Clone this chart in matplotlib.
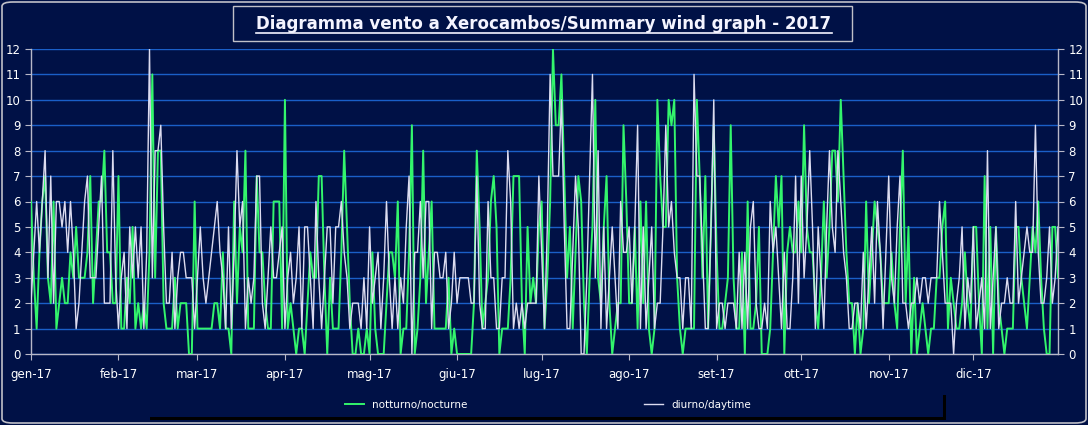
import matplotlib
matplotlib.use("Agg")
import matplotlib.pyplot as plt
from matplotlib.patches import Rectangle, FancyBboxPatch
from matplotlib.lines import Line2D
import numpy as np

# ---------------- data (daily values, 2017) ----------------
notturno_jan = [6,3,1,4,6,7,3,2,6,1, 2,3,2,2,4,3,5,3,3,3, 4,7,2,4,6,6,8,4,4,2, 2]
notturno_feb = [7,1,1,3,2,5,1,2,1,2, 1,4,11,3,8,8,2,1,1,1, 3,1,2,2,2,0,0,6]
notturno_mar = [1,1,1,1,1,1,2,2,1,4, 1,1,0,6,2,5,4,8,1,1, 1,7,4,4,2,1,1,6,6,6, 1]
notturno_apr = [10,1,2,1,0,1,1,0,2,4, 3,3,7,7,3,0,3,1,1,1, 4,8,5,2,0,0,1,0,0,1]
notturno_may = [0,4,1,0,0,0,2,4,4,3, 6,0,1,1,4,9,0,1,3,8, 2,4,6,1,1,1,1,1,3,0, 1]
notturno_jun = [0,0,0,0,0,0,2,8,5,1, 2,3,6,7,5,0,1,1,1,3, 7,7,7,2,0,5,2,3,2,5]
notturno_jul = [6,1,3,6,12,9,9,11,7,3, 5,1,4,7,6,2,0,3,5,10, 3,2,5,7,2,0,1,2,2,9, 6]
notturno_aug = [2,2,5,1,6,2,6,1,0,1, 10,7,5,5,10,9,10,3,1,0, 1,1,1,1,10,7,3,7,1,5, 9]
notturno_sep = [4,1,1,2,3,9,3,1,1,4, 0,6,1,1,2,5,0,0,0,1, 4,7,5,7,0,4,5,4,4,6]
notturno_oct = [4,9,5,4,4,2,1,3,6,3, 5,8,8,6,10,7,4,2,2,0, 2,0,1,6,2,4,6,5,4,2, 2]
notturno_nov = [2,4,2,1,5,8,2,5,0,3, 0,1,2,1,0,1,1,3,3,5, 6,1,3,2,1,1,2,4,2,1]
notturno_dec = [5,5,2,0,7,1,5,0,5,2, 1,0,1,1,1,5,5,3,2,1, 3,5,4,6,3,1,0,0,5,5, 3]

diurno_jan = [2,4,6,4,6,8,3,7,2,6, 6,5,6,4,6,4,1,2,4,6, 7,3,3,3,5,7,2,2,2,8, 3]
diurno_feb = [1,3,4,1,5,3,5,3,5,1, 4,12,3,8,8,9,5,2,2,4, 1,3,4,4,3,3,3,1]
diurno_mar = [3,5,3,2,3,4,5,6,4,3, 1,5,1,4,8,5,6,1,3,2, 3,7,7,2,1,3,5,3,3,4, 5]
diurno_apr = [1,3,4,2,3,5,1,5,5,3, 1,6,3,1,3,5,5,2,5,5, 6,4,3,1,2,2,2,1,3,1]
diurno_may = [5,2,3,4,1,3,6,3,1,3, 1,3,2,5,7,0,4,4,6,3, 6,6,1,4,4,3,3,4,1,2, 4]
diurno_jun = [2,3,3,3,3,2,2,7,2,1, 1,6,3,3,1,1,3,3,8,6, 1,2,1,2,1,2,2,2,2,7]
diurno_jul = [4,1,5,11,7,7,7,10,5,1, 1,4,7,5,0,0,3,7,11,3, 8,1,5,1,3,5,3,1,6,4, 4]
diurno_aug = [5,2,5,9,1,5,1,3,5,1, 2,2,5,9,5,6,4,3,3,1, 3,3,1,11,7,7,4,1,1,5, 10]
diurno_sep = [1,2,2,1,2,2,2,1,4,1, 4,1,5,6,2,1,1,2,1,6, 4,5,3,1,4,1,1,3,7,2]
diurno_oct = [7,3,5,8,5,1,5,3,1,5, 8,5,4,8,6,4,3,1,1,2, 2,1,4,1,3,5,2,6,4,1, 4]
diurno_nov = [7,3,2,5,7,2,2,1,2,2, 3,2,3,3,2,3,3,3,6,4, 2,2,2,0,2,3,5,1,3,2]
diurno_dec = [5,1,2,3,1,8,1,3,5,1, 2,2,3,2,2,6,2,3,4,5, 4,4,9,4,2,2,3,5,2,3, 5]

month_labels = ["gen-17", "feb-17", "mar-17", "apr-17", "mag-17", "giu-17",
                "lug-17", "ago-17", "set-17", "ott-17", "nov-17", "dic-17"]
y_ticks = list(range(0, 13))
title_text = "Diagramma vento a Xerocambos/Summary wind graph - 2017"
label_night = "notturno/nocturne"
label_day = "diurno/daytime"

notturno = (notturno_jan + notturno_feb + notturno_mar + notturno_apr + notturno_may +
            notturno_jun + notturno_jul + notturno_aug + notturno_sep + notturno_oct +
            notturno_nov + notturno_dec)
diurno = (diurno_jan + diurno_feb + diurno_mar + diurno_apr + diurno_may + diurno_jun +
          diurno_jul + diurno_aug + diurno_sep + diurno_oct + diurno_nov + diurno_dec)
month_lengths = [len(m) for m in (notturno_jan, notturno_feb, notturno_mar, notturno_apr,
                                  notturno_may, notturno_jun, notturno_jul, notturno_aug,
                                  notturno_sep, notturno_oct, notturno_nov, notturno_dec)]
month_starts = np.concatenate([[0], np.cumsum(month_lengths)[:-1]])
days = np.arange(len(notturno))

# ---------------- style ----------------
BG = "#001146"
GRID = "#1a5fc8"
GREEN = "#33f56c"
WHITE = "#dcdcf0"
AXIS = "#b8b8c8"
TXT = "#ffffff"
W, H = 1088, 425

plt.rcParams['font.family'] = ['DejaVu Sans']
fig = plt.figure(figsize=(W / 100, H / 100), dpi=100, facecolor=BG)

ax = fig.add_axes([31 / W, 1 - 354 / H, (1058 - 31) / W, (354 - 49) / H])
ax.set_facecolor(BG)
ax.plot(days, notturno, color=GREEN, lw=1.4, zorder=3, label=label_night)
ax.plot(days, diurno, color=WHITE, lw=1.0, zorder=4, label=label_day)

ax.set_xlim(0, len(days) - 1)
ax.set_ylim(0, 12)
ax.set_yticks(y_ticks)
ax.set_xticks(month_starts)
ax.set_xticklabels(month_labels)
ax.yaxis.grid(True, color=GRID, lw=1.0, zorder=1)
ax.set_axisbelow(True)
for s in ("left", "right", "bottom"):
    ax.spines[s].set_color(AXIS)
    ax.spines[s].set_linewidth(1.0)
ax.spines["top"].set_visible(False)
ax.tick_params(axis="y", colors=AXIS, labelcolor=TXT, labelsize=8.5, length=4,
               direction="out", left=True, right=True, labelleft=True, labelright=True)
ax.tick_params(axis="x", colors=AXIS, labelcolor=TXT, labelsize=8.5, length=4,
               direction="out", pad=6)

# outer rounded border
fig.patches.append(FancyBboxPatch((2 / W, 2 / H), (W - 4) / W, (H - 4) / H,
                                  boxstyle="round,pad=0,rounding_size=0.01",
                                  transform=fig.transFigure, fill=False,
                                  ec="#c0c0c8", lw=1.2))

# title box and underlined title
fig.patches.append(Rectangle((233 / W, 1 - 41 / H), (852 - 233) / W, (41 - 6) / H,
                             transform=fig.transFigure, fill=False, ec="#c0c0c8", lw=1.0))
t = fig.text(0.5, 1 - 29 / H, title_text, ha="center", va="baseline", color="#f4f4ff",
             fontsize=12, fontweight="bold")
fig.canvas.draw()
bb = t.get_window_extent(renderer=fig.canvas.get_renderer())
uy = 1 - 33 / H
fig.add_artist(Line2D([bb.x0 / W, bb.x1 / W], [uy, uy], transform=fig.transFigure,
                      color="#f4f4ff", lw=1.2))

# legend box with shadow
fig.patches.append(Rectangle((150 / W, 1 - 420 / H), (946 - 150) / W, (420 - 395) / H,
                             transform=fig.transFigure, fill=True, fc="#000000", ec="none"))
fig.patches.append(Rectangle((147 / W, 1 - 417 / H), (943 - 147) / W, (417 - 393) / H,
                             transform=fig.transFigure, fill=True, fc=BG, ec="none"))
fig.legend(handles=ax.get_lines(), labels=[label_night, label_day], loc="center",
           bbox_to_anchor=(548 / W, 1 - 405 / H), ncol=2, frameon=False,
           fontsize=7.5, labelcolor=TXT, handlelength=1.8, columnspacing=17)

fig.savefig("out.png", dpi=100, facecolor=BG)
